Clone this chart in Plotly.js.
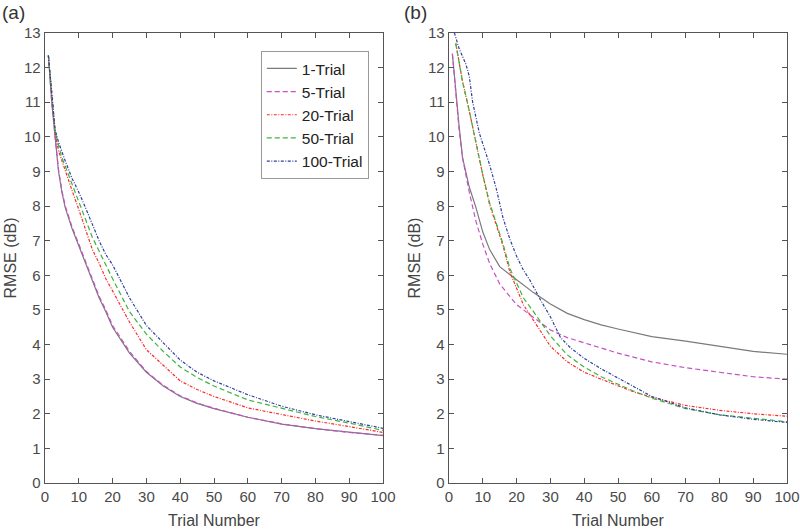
<!DOCTYPE html>
<html><head><meta charset="utf-8">
<script src="https://cdn.plot.ly/plotly-3.0.1.min.js"></script>
<style>html,body{margin:0;padding:0;background:#fff}#chart{width:800px;height:530px}</style>
</head><body><div id="chart"></div>
<script>
// ---- data ----
const seriesNames = ['1-Trial','5-Trial','20-Trial','50-Trial','100-Trial'];

// panel (a)
const xA = [1,2,3,4,5,6,8,10,12,14,16,18,20,25,30,35,40,45,50,60,70,80,90,100];
const a1   = [12.35,11.0,10.0,9.0,8.4,7.95,7.35,6.85,6.3,5.8,5.35,4.95,4.5,3.75,3.2,2.8,2.5,2.3,2.15,1.9,1.7,1.57,1.46,1.37];
const a5   = [12.35,11.0,10.0,9.05,8.45,8.0,7.4,6.9,6.35,5.85,5.4,5.0,4.55,3.8,3.22,2.82,2.52,2.31,2.16,1.9,1.71,1.57,1.46,1.38];
const a20  = [12.35,11.1,10.1,9.6,9.3,9.05,8.45,7.9,7.3,6.75,6.35,5.9,5.55,4.65,3.85,3.4,2.95,2.7,2.5,2.17,1.97,1.79,1.63,1.46];
const a50  = [12.35,11.2,10.15,9.75,9.4,9.15,8.65,8.15,7.65,7.1,6.7,6.3,5.9,4.95,4.3,3.8,3.35,3.05,2.8,2.4,2.15,1.92,1.73,1.52];
const a100 = [12.35,11.3,10.2,9.85,9.55,9.3,8.8,8.4,7.95,7.45,7.0,6.6,6.3,5.35,4.55,4.05,3.55,3.2,2.95,2.55,2.22,1.97,1.77,1.58];

// panel (b)
const xB1  = [1,2,3,4,5,6,8,10,12,15,20,25,30,35,40,45,50,60,70,80,90,100];
const b1   = [12.4,11.3,10.3,9.4,8.95,8.55,7.95,7.25,6.75,6.25,5.87,5.5,5.17,4.9,4.72,4.57,4.45,4.23,4.1,3.95,3.8,3.72];
const b5   = [12.4,11.2,10.2,9.4,8.85,8.4,7.55,6.9,6.35,5.75,5.15,4.78,4.42,4.2,4.05,3.92,3.75,3.5,3.33,3.2,3.07,3.0];
const xB20 = [2,3,4,6,8,10,12,14,16,18,20,22,25,28,30,35,40,45,50,55,60,70,80,90,100];
const b20  = [12.7,12.1,11.6,10.75,9.8,8.9,8.05,7.45,6.85,6.1,5.6,5.15,4.7,4.25,3.95,3.5,3.2,3.0,2.8,2.62,2.48,2.24,2.1,2.0,1.93];
const b50  = [12.7,12.1,11.6,10.75,9.8,8.9,8.1,7.5,6.9,6.2,5.75,5.35,4.95,4.55,4.25,3.7,3.35,3.07,2.85,2.64,2.45,2.15,1.97,1.86,1.77];
const xB100 = [1,3,5,6,7,9,12,14,16,18,20,22,24,27,30,33,36,40,45,50,60,70,80,90,100];
const b100  = [13.2,12.55,12.1,11.75,11.0,10.1,9.2,8.5,7.65,7.05,6.55,6.15,5.85,5.3,4.8,4.2,3.9,3.6,3.3,3.03,2.5,2.17,1.97,1.84,1.75];

const xTicks = [0,10,20,30,40,50,60,70,80,90,100];
const yTicks = [0,1,2,3,4,5,6,7,8,9,10,11,12,13];

// ---- styles ----
const styles = [
  {color:'#7a7a7a', dash:'solid', width:1.2},
  {color:'#c64fc6', dash:'5px,3px', width:1.2},
  {color:'#ff2a2a', dash:'3px,1.5px,1px,1.5px', width:1.2},
  {color:'#3cb43c', dash:'5px,3px', width:1.2},
  {color:'#2c3f9e', dash:'3px,1.5px,1px,1.5px', width:1.2}
];
const dataA = [[xA,a1],[xA,a5],[xA,a20],[xA,a50],[xA,a100]];
const dataB = [[xB1,b1],[xB1,b5],[xB20,b20],[xB20,b50],[xB100,b100]];

const traces = [];
dataA.forEach((d,i)=>traces.push({x:d[0],y:d[1],type:'scatter',mode:'lines',name:seriesNames[i],
  line:styles[i],xaxis:'x',yaxis:'y',showlegend:true}));
dataB.forEach((d,i)=>traces.push({x:d[0],y:d[1],type:'scatter',mode:'lines',name:seriesNames[i],
  line:styles[i],xaxis:'x2',yaxis:'y2',showlegend:false}));

const font = {family:'Liberation Sans, Arial, sans-serif', color:'#444', size:14};
function xax(dom, anchor){
  return {domain:dom, anchor:anchor, range:[0,100], tickvals:xTicks, ticks:'inside', ticklen:5,
    tickcolor:'#555', showline:true, linecolor:'#555', linewidth:1.3, mirror:'allticks',
    showgrid:false, zeroline:false, tickfont:{size:15,color:'#4a4a4a'},
    title:{text:'Trial Number', font:{size:16,color:'#444'}, standoff:10}};
}
function yax(anchor){
  return {domain:[0.0887,0.9377], anchor:anchor, range:[0,13], tickvals:yTicks, ticks:'inside', ticklen:5,
    tickcolor:'#555', showline:true, linecolor:'#555', linewidth:1.3, mirror:'allticks',
    showgrid:false, zeroline:false, tickfont:{size:15,color:'#4a4a4a'},
    title:{text:'RMSE (dB)', font:{size:16,color:'#444'}, standoff:3}};
}
const layout = {
  width:800, height:530, margin:{l:0,r:0,t:0,b:0}, paper_bgcolor:'#fff', plot_bgcolor:'#fff',
  font:font, showlegend:true,
  xaxis: xax([0.05625,0.47875],'y'),
  yaxis: yax('x'),
  xaxis2: xax([0.56125,0.98375],'y2'),
  yaxis2: yax('x2'),
  legend:{x:0.326, y:0.904, xanchor:'left', yanchor:'top', bgcolor:'#fff', bordercolor:'#999',
    borderwidth:1, font:{size:15.5,color:'#222'}, tracegroupgap:0, itemwidth:30},
  annotations:[
    {text:'(a)', xref:'paper', yref:'paper', x:0, y:1.0, xanchor:'left', yanchor:'top', showarrow:false,
     font:{size:19,color:'#333'}},
    {text:'(b)', xref:'paper', yref:'paper', x:0.502, y:1.0, xanchor:'left', yanchor:'top', showarrow:false,
     font:{size:19,color:'#333'}}
  ]
};
Plotly.newPlot('chart', traces, layout, {displayModeBar:false, staticPlot:true});
</script></body></html>
